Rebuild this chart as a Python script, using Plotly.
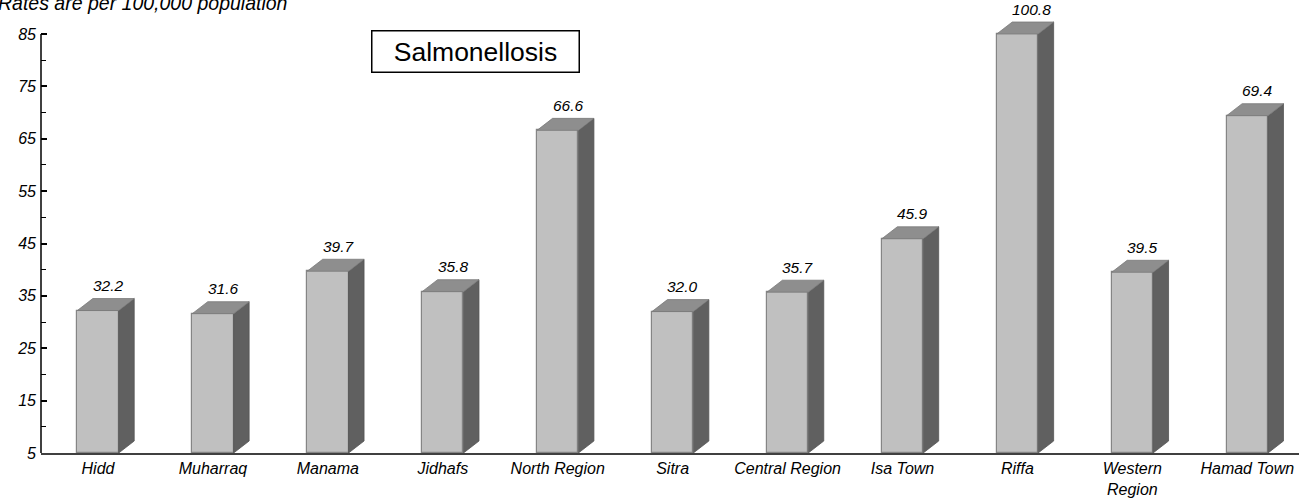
import plotly.graph_objects as go

# ---------------- data ----------------
categories = ["Hidd", "Muharraq", "Manama", "Jidhafs", "North Region", "Sitra",
              "Central Region", "Isa Town", "Riffa", "Western Region", "Hamad Town"]
category_labels = ["Hidd", "Muharraq", "Manama", "Jidhafs", "North Region", "Sitra",
                   "Central Region", "Isa Town", "Riffa", "Western<br>Region", "Hamad Town"]
rates = [32.2, 31.6, 39.7, 35.8, 66.6, 32.0, 35.7, 45.9, 100.8, 39.5, 69.4]
value_labels = ["32.2", "31.6", "39.7", "35.8", "66.6", "32.0", "35.7", "45.9", "100.8", "39.5", "69.4"]
y_tickvals = [5, 15, 25, 35, 45, 55, 65, 75, 85]
y_minor_tickvals = [10, 20, 30, 40, 50, 60, 70, 80]
title_text = "Salmonellosis"
subtitle_text = "Rates are per 100,000 population"

# ---------------- styling / geometry ----------------
Y_BASE = 5
Y_MAX = 85
Y_TOP = 91.49          # axis top (plot extends above 85 so clipped bar tops show)
BAR_W = 0.36           # front face width (x units)
DX = 0.135             # depth offset in x units
DY = 2.29              # depth offset in y units
FRONT = "#c0c0c0"
SIDE = "#606060"
TOP = "#8e8e8e"
FONT = "Liberation Sans, Arial, sans-serif"

xs = list(range(len(categories)))
heights = [min(v, Y_MAX) for v in rates]

fig = go.Figure()

# side faces
sx, sy = [], []
for x, h in zip(xs, heights):
    xr = x + BAR_W / 2
    sx += [xr, xr + DX, xr + DX, xr, xr, None]
    sy += [Y_BASE, Y_BASE + DY, h + DY, h, Y_BASE, None]
fig.add_trace(go.Scatter(x=sx, y=sy, mode="lines", fill="toself", fillcolor=SIDE,
                         line=dict(color="#555555", width=0.8), hoverinfo="skip",
                         showlegend=False))

# top faces
tx, ty = [], []
for x, h in zip(xs, heights):
    xl = x - BAR_W / 2
    xr = x + BAR_W / 2
    tx += [xl, xl + DX, xr + DX, xr, xl, None]
    ty += [h, h + DY, h + DY, h, h, None]
fig.add_trace(go.Scatter(x=tx, y=ty, mode="lines", fill="toself", fillcolor=TOP,
                         line=dict(color="#7a7a7a", width=0.8), hoverinfo="skip",
                         showlegend=False))

# front faces
fig.add_trace(go.Bar(x=xs, y=[h - Y_BASE for h in heights], base=Y_BASE, width=BAR_W,
                     marker=dict(color=FRONT, line=dict(color="#858585", width=1.2)),
                     hoverinfo="skip", showlegend=False))

# value labels
for x, h, lab in zip(xs, heights, value_labels):
    fig.add_annotation(x=x - BAR_W / 2 + DX, y=h + DY, text=lab, showarrow=False,
                       xanchor="left", yanchor="middle", yshift=13, xshift=-2,
                       font=dict(family=FONT, size=15.5, color="black", style="italic"))

# y axis line (only up to 85)
fig.add_shape(type="line", xref="paper", yref="y", x0=0, x1=0, y0=Y_BASE, y1=Y_MAX,
              line=dict(color="black", width=1.5))

# title box
fig.add_annotation(xref="paper", yref="paper", x=0.345, y=1 - 51 / 453, text=title_text,
                   showarrow=False, xanchor="center", yanchor="middle",
                   width=204, height=38, bordercolor="black", borderwidth=1.5,
                   font=dict(family=FONT, size=26.5, color="black"))

# subtitle
fig.add_annotation(xref="paper", yref="paper", x=-0.0358, y=1 - 2.5 / 453, text=subtitle_text,
                   showarrow=False, xanchor="left", yanchor="middle",
                   font=dict(family=FONT, size=19.5, color="black", style="italic"))

fig.update_layout(
    width=1299, height=499,
    margin=dict(l=41, r=0, t=0, b=46),
    plot_bgcolor="white", paper_bgcolor="white",
    bargap=0,
    xaxis=dict(range=[-0.496, 10.45], tickmode="array", tickvals=xs, ticktext=category_labels,
               showgrid=False, zeroline=False, showline=True, linecolor="#404040", linewidth=2,
               ticks="", automargin=False,
               tickfont=dict(family=FONT, size=16, color="black", style="italic")),
    yaxis=dict(range=[Y_BASE, Y_TOP], tickmode="array", tickvals=y_tickvals,
               showgrid=False, zeroline=False, showline=False, automargin=False,
               ticks="inside", ticklen=6, tickwidth=2, tickcolor="black",
               ticklabelstandoff=4,
               minor=dict(tickvals=y_minor_tickvals, ticks="inside", ticklen=5, tickwidth=1,
                          tickcolor="black", showgrid=False),
               tickfont=dict(family=FONT, size=16, color="black", style="italic")),
)

fig.write_html("out.html", config={"displayModeBar": False},
               post_script="document.body.style.margin='0';document.body.style.overflow='hidden';")
